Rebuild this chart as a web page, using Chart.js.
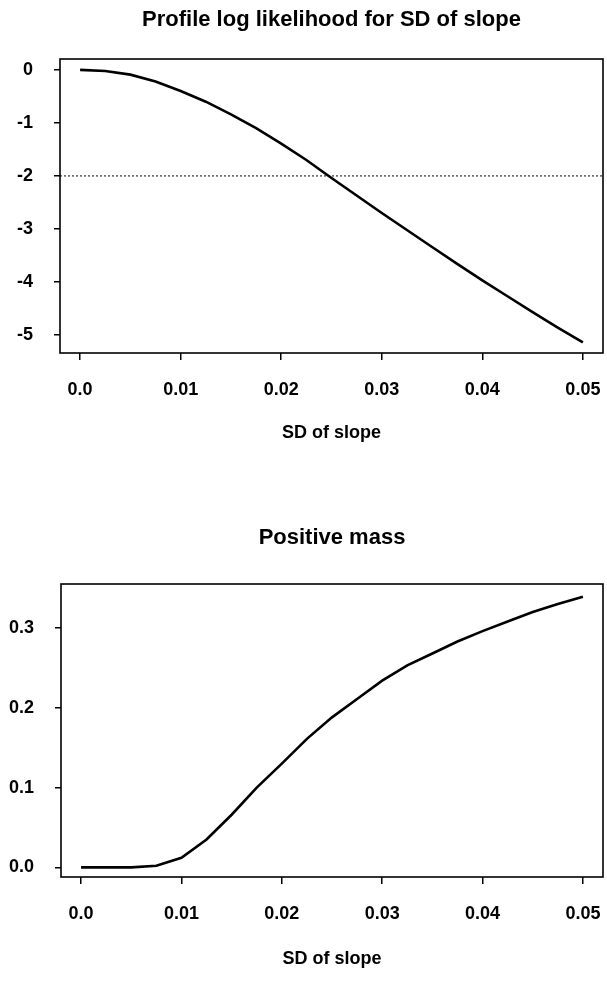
<!DOCTYPE html>
<html>
<head>
<meta charset="utf-8">
<script src="https://cdn.jsdelivr.net/npm/chart.js@4.4.1/dist/chart.umd.min.js"></script>
<style>
  html, body { margin: 0; padding: 0; background: #ffffff; }
  #wrap { position: relative; width: 607px; height: 983px; background: #fff; }
  canvas { position: absolute; left: 0; }
  #c1 { top: 0; }
  #c2 { top: 490px; }
</style>
</head>
<body>
<div id="wrap">
  <canvas id="c1" width="607" height="490"></canvas>
  <canvas id="c2" width="607" height="493"></canvas>
</div>
<script>
// ---- data ----
const sdSlope = [0, 0.0025, 0.005, 0.0075, 0.01, 0.0125, 0.015, 0.0175, 0.02, 0.0225, 0.025,
                 0.0275, 0.03, 0.0325, 0.035, 0.0375, 0.04, 0.0425, 0.045, 0.0475, 0.05];
const profileLogLik = [0, -0.02, -0.09, -0.22, -0.40, -0.60, -0.84, -1.10, -1.39, -1.70, -2.04,
                       -2.37, -2.70, -3.02, -3.34, -3.66, -3.97, -4.27, -4.57, -4.86, -5.14];
const positiveMass = [0, 0, 0, 0.002, 0.012, 0.035, 0.066, 0.100, 0.130, 0.161, 0.188,
                      0.211, 0.234, 0.253, 0.268, 0.283, 0.296, 0.308, 0.320, 0.330, 0.339];
const cutoffLevel = -2;

const xTicks = [0, 0.01, 0.02, 0.03, 0.04, 0.05];
const xTickLabels = ['0.0', '0.01', '0.02', '0.03', '0.04', '0.05'];
const yTicksTop = [0, -1, -2, -3, -4, -5];
const yTickLabelsTop = ['0', '-1', '-2', '-3', '-4', '-5'];
const yTicksBottom = [0, 0.1, 0.2, 0.3];
const yTickLabelsBottom = ['0.0', '0.1', '0.2', '0.3'];

const titleTop = 'Profile log likelihood for SD of slope';
const titleBottom = 'Positive mass';
const xAxisTitle = 'SD of slope';

// ---- helpers ----
const FONT = '"Liberation Sans", Arial, Helvetica, sans-serif';

const framePlugin = {
  id: 'frame',
  afterDraw(chart) {
    const a = chart.chartArea, ctx = chart.ctx;
    ctx.save();
    ctx.strokeStyle = '#000';
    ctx.lineWidth = 1.6;
    ctx.strokeRect(a.left, a.top, a.right - a.left, a.bottom - a.top);
    ctx.restore();
  }
};

const hLinePlugin = {
  id: 'hline',
  beforeDatasetsDraw(chart, args, opts) {
    if (opts.value === undefined || opts.value === null) return;
    const a = chart.chartArea, ctx = chart.ctx;
    const y = chart.scales.y.getPixelForValue(opts.value);
    ctx.save();
    ctx.strokeStyle = '#333';
    ctx.lineWidth = 1.2;
    ctx.setLineDash([2, 2]);
    ctx.beginPath();
    ctx.moveTo(a.left, y);
    ctx.lineTo(a.right, y);
    ctx.stroke();
    ctx.restore();
  }
};

function makeChart(canvasId, cfg) {
  const pts = sdSlope.map((x, i) => ({ x: x, y: cfg.values[i] }));
  return new Chart(document.getElementById(canvasId), {
    type: 'line',
    data: {
      datasets: [{
        data: pts,
        borderColor: '#000',
        borderWidth: 2.6,
        pointRadius: 0,
        tension: 0,
        fill: false
      }]
    },
    options: {
      responsive: false,
      animation: false,
      devicePixelRatio: 1,
      layout: { padding: { left: 0, right: 4, top: 0, bottom: 0 } },
      plugins: {
        legend: { display: false },
        tooltip: { enabled: false },
        title: {
          display: true,
          text: cfg.title,
          fullSize: false,
          color: '#000',
          font: { family: FONT, size: 22, weight: 'bold', lineHeight: 1.2 },
          padding: { top: cfg.titlePadTop, bottom: cfg.titlePadBottom }
        },
        hline: { value: cfg.hline }
      },
      scales: {
        x: {
          type: 'linear',
          min: -0.002,
          max: 0.052,
          afterBuildTicks(scale) { scale.ticks = xTicks.map(v => ({ value: v })); },
          afterFit(scale) {
            scale.height = cfg.xAxisHeight;
            scale.paddingLeft = 0;
            scale.paddingRight = 0;
          },
          ticks: {
            autoSkip: false,
            maxRotation: 0,
            color: '#000',
            padding: 19,
            font: { family: FONT, size: 18, weight: 'bold', lineHeight: 1.2 },
            callback: (v, i) => xTickLabels[i]
          },
          grid: { drawOnChartArea: false, drawTicks: true, tickLength: 7, color: '#000', lineWidth: 1.5 },
          border: { display: false },
          title: {
            display: true,
            text: xAxisTitle,
            color: '#000',
            font: { family: FONT, size: 18, weight: 'bold', lineHeight: 1.2 },
            padding: { top: 0, bottom: cfg.xTitlePadBottom }
          }
        },
        y: {
          type: 'linear',
          min: cfg.yMin,
          max: cfg.yMax,
          afterBuildTicks(scale) { scale.ticks = cfg.yTicks.map(v => ({ value: v })); },
          afterFit(scale) {
            scale.width = cfg.yAxisWidth;
            scale.paddingTop = 0;
            scale.paddingBottom = 0;
          },
          ticks: {
            autoSkip: false,
            color: '#000',
            padding: 21,
            font: { family: FONT, size: 18, weight: 'bold', lineHeight: 1.2 },
            callback: (v, i) => cfg.yLabels[i]
          },
          grid: { drawOnChartArea: false, drawTicks: true, tickLength: 6, color: '#000', lineWidth: 1.5 },
          border: { display: false }
        }
      }
    },
    plugins: [framePlugin, hLinePlugin]
  });
}

makeChart('c1', {
  values: profileLogLik,
  title: titleTop,
  titlePadTop: 7,
  titlePadBottom: 25.6,
  xAxisHeight: 137,
  xTitlePadBottom: 46,
  yAxisWidth: 60,
  yMin: -5.34,
  yMax: 0.205,
  yTicks: yTicksTop,
  yLabels: yTickLabelsTop,
  hline: cutoffLevel
});

makeChart('c2', {
  values: positiveMass,
  title: titleBottom,
  titlePadTop: 35,
  titlePadBottom: 32.6,
  xAxisHeight: 106,
  xTitlePadBottom: 13,
  yAxisWidth: 61,
  yMin: -0.012,
  yMax: 0.355,
  yTicks: yTicksBottom,
  yLabels: yTickLabelsBottom,
  hline: null
});
</script>
</body>
</html>
